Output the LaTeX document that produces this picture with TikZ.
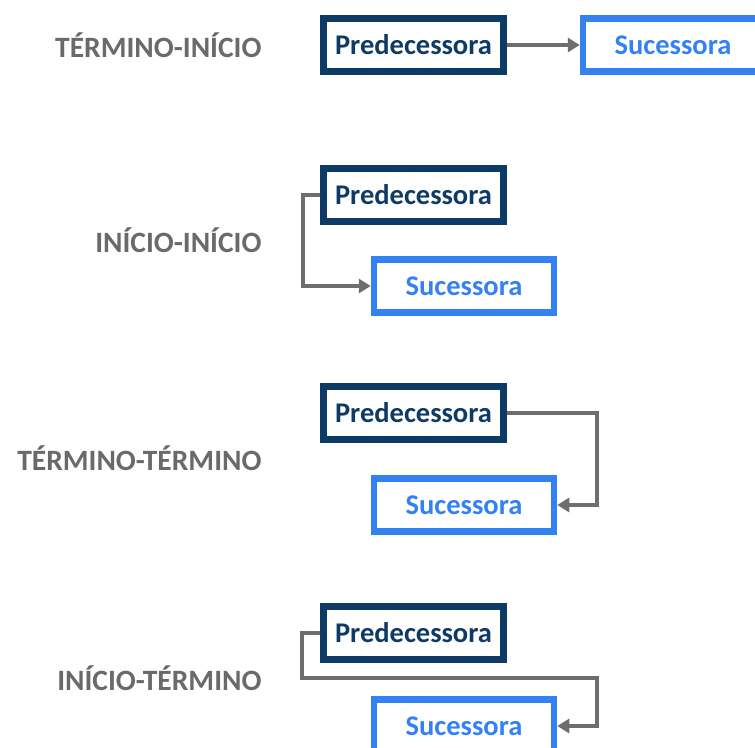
\documentclass[tikz,border=0pt]{standalone}
\usepackage{fontspec}
\setmainfont{Carlito}
\usepackage{xcolor}
\usetikzlibrary{arrows.meta}
\definecolor{predcolor}{HTML}{0E3A66}
\definecolor{succolor}{HTML}{3381F2}
\definecolor{linkcolor}{HTML}{6E6E6E}
\definecolor{labelcolor}{HTML}{6A6A6A}

\begin{document}
\begin{tikzpicture}[x=1pt, y=-1pt,
  pred/.style={draw=predcolor, line width=6.5pt, fill=white, minimum width=180pt, minimum height=53pt, inner sep=0pt, text=predcolor, font=\fontsize{28.5}{32}\selectfont\bfseries},
  suc/.style={draw=succolor, line width=6.5pt, fill=white, minimum width=180pt, minimum height=53pt, inner sep=0pt, text=succolor, font=\fontsize{28.5}{32}\selectfont\bfseries},
  link/.style={draw=linkcolor, line width=4pt, -{Triangle[length=12pt,width=14pt]}},
  lbl/.style={anchor=east, text=labelcolor, font=\fontsize{29.5}{33}\selectfont\bfseries}]
\useasboundingbox (0,0) rectangle (755,747);
\def\labelx{265}
\def\predx{413.5}
\def\sucx{464}

\begin{scope}[shift={(0, 45)}] % FIRST ROW
\node[lbl] (t1) at (\labelx, 0) {TÉRMINO-INÍCIO};
\node[pred] (p1) at (\predx, 0) {Predecessora};
\node[suc] (s1) at (673, 0) {Sucessora};
\draw[link] (p1.east) -- (s1.west);
\end{scope}

\begin{scope}[shift={(0, 195)}] % SECOND ROW
\node[lbl] (t2) at (\labelx, 45) {INÍCIO-INÍCIO};
\node[pred] (p2) at (\predx, 0) {Predecessora};
\node[suc] (s2) at (\sucx, 91) {Sucessora};
\draw[link] (p2.west) -- ++(-17, 0) |- (s2.west);
\end{scope}

\begin{scope}[shift={(0, 413)}] % THIRD ROW
\node[lbl] (t3) at (\labelx, 45) {TÉRMINO-TÉRMINO};
\node[pred] (p3) at (\predx, 0) {Predecessora};
\node[suc] (s3) at (\sucx, 92) {Sucessora};
\draw[link] (p3.east) -- ++(90, 0) |- (s3.east);
\end{scope}

\begin{scope}[shift={(0, 633)}] % FOURTH ROW
\node[lbl] (t4) at (\labelx, 45) {INÍCIO-TÉRMINO};
\node[pred] (p4) at (\predx, 0) {Predecessora};
\node[suc] (s4) at (\sucx, 93) {Sucessora};
\draw[link] (p4.west) -| ++(-18, 45) -| ([xshift=40pt]s4.east) -- (s4.east);
\end{scope}
\end{tikzpicture}
\end{document}
